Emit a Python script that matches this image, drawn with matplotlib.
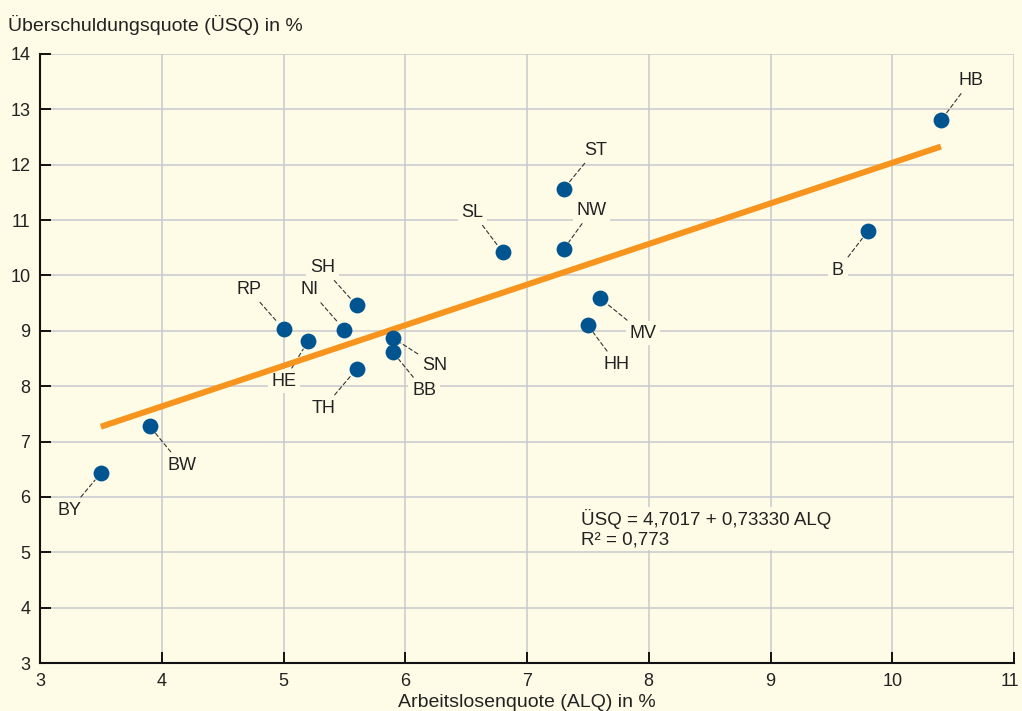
import matplotlib
matplotlib.use("Agg")
import matplotlib.pyplot as plt
import matplotlib.transforms as mtransforms
import numpy as np

# Bundesländer: Arbeitslosenquote (ALQ) vs. Überschuldungsquote (ÜSQ)
states = ["BY", "BW", "RP", "HE", "NI", "SH", "TH", "SN", "BB",
          "SL", "ST", "NW", "MV", "HH", "B", "HB"]
alq = [3.5, 3.9, 5.0, 5.2, 5.5, 5.6, 5.6, 5.9, 5.9,
       6.8, 7.3, 7.3, 7.6, 7.5, 9.8, 10.4]
usq = [6.43, 7.28, 9.03, 8.81, 9.02, 9.46, 8.31, 8.87, 8.61,
       10.42, 11.56, 10.47, 9.59, 9.10, 10.80, 12.80]

# regression result as printed in the chart
intercept = 4.7017
slope = 0.73330
r2 = 0.773

x_ticks = [3, 4, 5, 6, 7, 8, 9, 10, 11]
y_ticks = [3, 4, 5, 6, 7, 8, 9, 10, 11, 12, 13, 14]

# label offsets (pixels) from each point
label_offsets = {
    "BY": (-31, -37), "BW": (32, -39), "RP": (-35, 40), "HE": (-24, -40),
    "NI": (-35, 40), "SH": (-34, 38), "TH": (-33, -39), "SN": (42, -27),
    "BB": (31, -38), "SL": (-30, 40), "ST": (32, 39), "NW": (28, 39),
    "MV": (43, -35), "HH": (29, -39), "B": (-30, -39), "HB": (30, 40),
}

BG = "#fefce6"
BLUE = "#005590"
ORANGE = "#f7941d"
GRID = "#c8c9d0"
TXT = "#222222"

plt.rcParams["font.family"] = ["Liberation Sans", "DejaVu Sans"]
plt.rcParams["font.size"] = 13

fig = plt.figure(figsize=(10.22, 7.11), dpi=100, facecolor=BG)
ax = fig.add_axes([40 / 1022, 1 - 663 / 711, 974 / 1022, 609 / 711])
ax.set_facecolor(BG)

ax.set_xlim(3, 11)
ax.set_ylim(3, 14)
ax.set_xticks(x_ticks)
ax.set_yticks(y_ticks)
ax.grid(True, color=GRID, lw=1.1)
ax.set_axisbelow(True)
for side in ["top", "right"]:
    ax.spines[side].set_visible(False)
for side in ["left", "bottom"]:
    ax.spines[side].set_linewidth(1.5)
    ax.spines[side].set_color("#111111")
    ax.spines[side].set_zorder(5)
ax.tick_params(direction="in", length=8, width=1.4, colors="#111111",
               labelcolor=TXT, labelsize=13)
ax.tick_params(axis="x", pad=7)
ax.tick_params(axis="y", pad=7)

# keep the last x label inside the figure
last = ax.get_xticklabels()[-1]
last.set_transform(last.get_transform() +
                   mtransforms.ScaledTranslation(-4 / 100, 0, fig.dpi_scale_trans))

# regression line over the data range
xs = np.array([min(alq), max(alq)])
ax.plot(xs, intercept + slope * xs, color=ORANGE, lw=4.3,
        solid_capstyle="butt", zorder=3.5)

ax.scatter(alq, usq, s=130, color=BLUE, zorder=4, linewidths=0)

for name, x, y in zip(states, alq, usq):
    dx, dy = label_offsets[name]
    ax.annotate(name, xy=(x, y), xytext=(dx, dy), textcoords="offset pixels",
                ha="center", va="center", color=TXT, fontsize=13, zorder=3,
                bbox=dict(boxstyle="square,pad=0.2", fc=BG, ec="none"),
                arrowprops=dict(arrowstyle="-", color="#333333", lw=0.8,
                                linestyle=(0, (3.5, 2.5)), shrinkA=1, shrinkB=6.5))

ax.text(7.44, 5.43,
        f"ÜSQ = {intercept:.4f} + {slope:.5f} ALQ\nR² = {r2:.3f}".replace(".", ","),
        ha="left", va="center", color=TXT, fontsize=13.5, linespacing=1.2,
        zorder=3, bbox=dict(boxstyle="square,pad=0.1", fc=BG, ec="none"))

fig.text(8 / 1022, 1 - 25 / 711, "Überschuldungsquote (ÜSQ) in %",
         ha="left", va="center", color=TXT, fontsize=14)
ax.set_xlabel("Arbeitslosenquote (ALQ) in %", color=TXT, fontsize=14,
              labelpad=3)

fig.savefig("out.png", dpi=100, facecolor=BG)
